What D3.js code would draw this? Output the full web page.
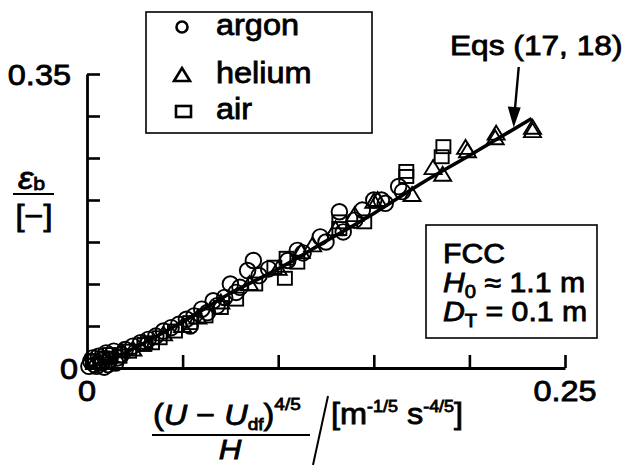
<!DOCTYPE html>
<html>
<head>
<meta charset="utf-8">
<script src="https://cdn.jsdelivr.net/npm/d3@7"></script>
<style>
  html, body { margin: 0; padding: 0; background: #fff; }
  svg text { font-family: "Liberation Sans", Arial, Helvetica, sans-serif; fill: #000; }
</style>
</head>
<body>
<svg id="chart" width="627" height="465"></svg>
<script>
// Bed voidage vs. scaled excess gas velocity, FCC column
const argon = [
  [0.001,0.002],[0.002,0.008],[0.003,0.012],[0.004,0.004],[0.005,0.002],[0.006,0.014],
  [0.007,0.009],[0.008,0.006],[0.009,0.001],[0.010,0.018],[0.011,0.004],[0.012,0.010],
  [0.014,0.020],[0.015,0.006],[0.016,0.012],[0.018,0.016],[0.020,0.022],[0.024,0.026],
  [0.028,0.030],[0.032,0.034],[0.036,0.038],[0.040,0.044],[0.044,0.048],[0.048,0.052],
  [0.052,0.058],[0.054,0.050],[0.056,0.062],[0.060,0.070],[0.063,0.066],[0.066,0.080],
  [0.068,0.074],[0.072,0.084],[0.075,0.100],[0.078,0.090],[0.080,0.096],[0.084,0.116],
  [0.087,0.128],[0.090,0.110],[0.095,0.118],[0.105,0.128],[0.110,0.140],[0.113,0.137],
  [0.122,0.156],[0.125,0.150],[0.132,0.186],[0.134,0.162],[0.140,0.176],[0.144,0.188],
  [0.150,0.200],[0.154,0.200],[0.156,0.196],[0.163,0.216],[0.165,0.210]
];
const helium = [
  [0.004,0.006],[0.010,0.012],[0.018,0.020],[0.024,0.022],[0.030,0.030],[0.040,0.040],
  [0.050,0.050],[0.058,0.060],[0.070,0.078],[0.085,0.100],[0.100,0.118],[0.112,0.138],
  [0.118,0.146],[0.130,0.165],[0.140,0.182],[0.150,0.198],[0.152,0.200],[0.170,0.206],
  [0.181,0.238],[0.186,0.230],[0.198,0.262],[0.199,0.258],[0.214,0.279],[0.2135,0.2735],
  [0.233,0.286],[0.233,0.282]
];
const air = [
  [0.003,0.008],[0.008,0.012],[0.012,0.016],[0.017,0.014],[0.022,0.020],[0.030,0.028],
  [0.034,0.030],[0.038,0.036],[0.046,0.044],[0.054,0.054],[0.062,0.062],[0.070,0.072],
  [0.078,0.082],[0.088,0.100],[0.098,0.120],[0.1035,0.1068],[0.1044,0.1306],[0.110,0.126],
  [0.132,0.174],[0.132,0.166],[0.145,0.174],[0.167,0.234],[0.167,0.228],[0.1864,0.2635],
  [0.1855,0.2515]
];
// Eqs (17, 18) correlation curve
const correlation = [
  [0,0],[0.01,0.008],[0.025,0.024],[0.05,0.055],[0.075,0.089],[0.1,0.118],
  [0.125,0.151],[0.15,0.184],[0.175,0.220],[0.2,0.253],[0.2326,0.297]
];
const xTicks = [0, 0.05, 0.1, 0.15, 0.2, 0.25];
const yTicks = [0, 0.05, 0.1, 0.15, 0.2, 0.25, 0.3, 0.35];
const legendItems = ["argon", "helium", "air"];

const svg = d3.select("#chart");
const x = d3.scaleLinear().domain([0, 0.25]).range([87, 565]);
const y = d3.scaleLinear().domain([0, 0.35]).range([368, 74]);

// axes with inward ticks
const gx = svg.append("g").attr("transform", `translate(0,${y(0)})`)
  .call(d3.axisBottom(x).tickValues(xTicks).tickSize(-13).tickSizeOuter(0).tickFormat(""));
const gy = svg.append("g").attr("transform", `translate(${x(0)},0)`)
  .call(d3.axisLeft(y).tickValues(yTicks).tickSize(-13).tickSizeOuter(0).tickFormat(""));
[gx, gy].forEach(g => {
  g.selectAll("path.domain").attr("stroke", "#000").attr("stroke-width", 2.8);
  g.selectAll(".tick line").attr("stroke", "#000").attr("stroke-width", 2.6);
});

// text helper: slightly wide, heavy lettering
const SX = 1.12;
const txt = (t, px, py, size, anchor) => svg.append("g")
  .attr("transform", `translate(${px},${py}) scale(${SX},1)`)
  .append("text").attr("font-size", size)
  .attr("text-anchor", anchor || "start")
  .attr("stroke", "#000").attr("stroke-width", 0.8).text(t);

txt("0.35", 71, 85, 29, "end");
txt("0", 78, 379, 29, "end");
txt("0", x(0), 401, 29, "middle");
txt("0.25", x(0.25), 401, 29, "middle");

// markers
const mk = svg.append("g").attr("fill", "none").attr("stroke", "#000").attr("stroke-width", 1.9);
const triPath = (cx, cy) => `M${cx},${cy-8}L${cx+8.5},${cy+6}L${cx-8.5},${cy+6}Z`;
mk.selectAll("circle.ar").data(argon).join("circle")
  .attr("cx", d => x(d[0])).attr("cy", d => y(d[1])).attr("r", 7.8);
mk.selectAll("rect.air").data(air).join("rect")
  .attr("x", d => x(d[0]) - 7).attr("y", d => y(d[1]) - 6.5).attr("width", 14).attr("height", 13);
mk.selectAll("path.he").data(helium).join("path")
  .attr("d", d => triPath(x(d[0]), y(d[1])));

// correlation line
svg.append("path").datum(correlation)
  .attr("d", d3.line().x(d => x(d[0])).y(d => y(d[1])).curve(d3.curveMonotoneX))
  .attr("fill", "none").attr("stroke", "#000").attr("stroke-width", 3.6);

// annotation arrow
const end = correlation[correlation.length - 1];
const tipX = x(end[0]) - 18, tipY = y(end[1]) + 9;
svg.append("line").attr("x1", tipX + 5).attr("y1", 67).attr("x2", tipX + 1).attr("y2", tipY - 16)
  .attr("stroke", "#000").attr("stroke-width", 2.4);
svg.append("path").attr("d", `M${tipX-6},${tipY-21}L${tipX+7},${tipY-20}L${tipX},${tipY}Z`).attr("fill", "#000");
txt("Eqs (17, 18)", 450, 55, 28).attr("textLength", 154).attr("lengthAdjust", "spacingAndGlyphs");

// legend
svg.append("rect").attr("x", 146).attr("y", 12).attr("width", 226).attr("height", 121)
  .attr("fill", "none").attr("stroke", "#000").attr("stroke-width", 1.6);
const lg = svg.append("g").attr("fill", "none").attr("stroke", "#000").attr("stroke-width", 2.6);
lg.append("circle").attr("cx", 182).attr("cy", 27).attr("r", 5.5);
lg.append("path").attr("d", "M182,68L190,81L174,81Z");
lg.append("rect").attr("x", 176).attr("y", 106).attr("width", 15).attr("height", 11);
[35, 83, 119].forEach((by, i) => txt(legendItems[i], 216, by, 29));

// condition box
svg.append("rect").attr("x", 426).attr("y", 225).attr("width", 171).attr("height", 113)
  .attr("fill", "none").attr("stroke", "#000").attr("stroke-width", 1.6);
txt("FCC", 443, 263, 27);
const l2 = txt("", 443, 292, 27);
l2.append("tspan").attr("font-style", "italic").text("H");
l2.append("tspan").attr("font-size", 18).attr("dy", 6).text("0");
l2.append("tspan").attr("dy", -6).text(" ≈ 1.1 m");
const l3 = txt("", 443, 321, 27);
l3.append("tspan").attr("font-style", "italic").text("D");
l3.append("tspan").attr("font-size", 18).attr("dy", 6).text("T");
l3.append("tspan").attr("dy", -6).text(" = 0.1 m");

// y-axis label: voidage over unit bracket
const yl = txt("", 18, 189, 31);
yl.append("tspan").attr("font-style", "italic").text("ε");
yl.append("tspan").attr("font-size", 19).attr("dy", 1).text("b");
svg.append("line").attr("x1", 13).attr("x2", 54).attr("y1", 194).attr("y2", 194)
  .attr("stroke", "#000").attr("stroke-width", 2.2);
txt("[−]", 34, 226, 29, "middle");

// x-axis label: scaled excess velocity over units
const xl = txt("", 153, 425, 29);
xl.append("tspan").text("(");
xl.append("tspan").attr("font-style", "italic").text("U");
xl.append("tspan").text(" − ");
xl.append("tspan").attr("font-style", "italic").text("U");
xl.append("tspan").attr("font-size", 17).attr("dy", 5).text("df");
xl.append("tspan").attr("dy", -5).text(")");
xl.append("tspan").attr("font-size", 17).attr("dy", -15).text("4/5");
svg.append("line").attr("x1", 152).attr("x2", 310).attr("y1", 435).attr("y2", 435)
  .attr("stroke", "#000").attr("stroke-width", 2);
txt("", 230, 459, 28, "middle").append("tspan").attr("font-style", "italic").text("H");
svg.append("line").attr("x1", 328).attr("y1", 396).attr("x2", 313).attr("y2", 465)
  .attr("stroke", "#000").attr("stroke-width", 2);
const ul = txt("", 331, 424, 29);
ul.append("tspan").text("[m");
ul.append("tspan").attr("font-size", 16).attr("dy", -12).text("-1/5");
ul.append("tspan").attr("dy", 12).text(" s");
ul.append("tspan").attr("font-size", 16).attr("dy", -12).text("-4/5");
ul.append("tspan").attr("dy", 12).text("]");
</script>
</body>
</html>
